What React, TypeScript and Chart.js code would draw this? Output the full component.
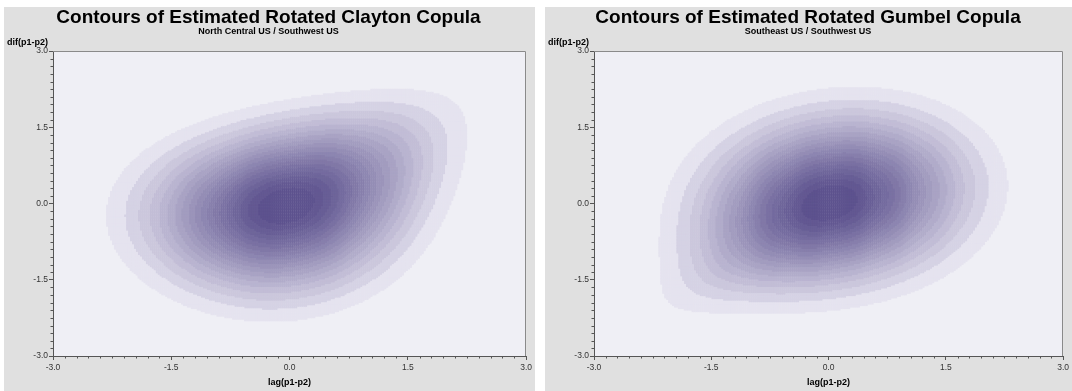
import React, { useEffect, useRef } from "react";
import { Chart, registerables } from "chart.js";

Chart.register(...registerables);

// ---- chart content ----
const panelTitles = [
  "Contours of Estimated Rotated Clayton Copula",
  "Contours of Estimated Rotated Gumbel Copula",
];
const panelSubtitles = ["North Central US / Southwest US", "Southeast US / Southwest US"];
const copulaFamilies = ["clayton", "gumbel"];
// estimated copula parameters (read from the contour shapes)
const copulaThetas = [0.38, 1.16];
// contour levels as fractions of the peak density
const contourLevelFractions = [
  0.07, 0.118, 0.166, 0.214, 0.262, 0.31, 0.358, 0.406, 0.454, 0.502, 0.55, 0.598, 0.646, 0.694, 0.742, 0.79, 0.838,
  0.886, 0.934,
];
const axisMin = -3;
const axisMax = 3;
const axisMajorStep = 1.5;
const axisMinorStep = 0.15;
const xAxisLabel = "lag(p1-p2)";
const yAxisLabel = "dif(p1-p2)";

// ---- styling ----
const FONT = '"Liberation Sans", Arial, Helvetica, sans-serif';
const PANEL_BG = "#e0e0e0";
const PLOT_BG = "#efeff5";
const LIGHT = [229, 227, 239];
const DARK = [93, 82, 142];
const RAMP_GAMMA = 0.75;
const GRID_NX = 240;
const GRID_NY = 200;

function erfc(x: number) {
  const z = Math.abs(x);
  const t = 1 / (1 + 0.5 * z);
  const r =
    t *
    Math.exp(
      -z * z -
        1.26551223 +
        t *
          (1.00002368 +
            t *
              (0.37409196 +
                t *
                  (0.09678418 +
                    t *
                      (-0.18628806 +
                        t *
                          (0.27886807 +
                            t * (-1.13520398 + t * (1.48851587 + t * (-0.82215223 + t * 0.17087277))))))))
    );
  return x >= 0 ? r : 2 - r;
}
const normCdf = (x: number) => 0.5 * erfc(-x / Math.SQRT2);
const normPdf = (x: number) => Math.exp(-0.5 * x * x) / Math.sqrt(2 * Math.PI);

function claytonDensity(u: number, v: number, t: number) {
  const s = Math.pow(u, -t) + Math.pow(v, -t) - 1;
  return (1 + t) * Math.pow(u * v, -1 - t) * Math.pow(s, -2 - 1 / t);
}
function gumbelDensity(u: number, v: number, t: number) {
  const a = -Math.log(u);
  const b = -Math.log(v);
  const S = Math.pow(a, t) + Math.pow(b, t);
  const A = Math.pow(S, 1 / t);
  const C = Math.exp(-A);
  return (C / (u * v)) * Math.pow(a * b, t - 1) * Math.pow(S, 1 / t - 2) * (A + t - 1);
}
// 180-degree rotated copula with standard normal margins
function jointDensity(family: string, theta: number, x: number, y: number) {
  const u = normCdf(-x);
  const v = normCdf(-y);
  const c = family === "clayton" ? claytonDensity(u, v, theta) : gumbelDensity(u, v, theta);
  return c * normPdf(x) * normPdf(y);
}

function bandColor(k: number, n: number) {
  const t = Math.pow(n <= 1 ? 1 : k / (n - 1), RAMP_GAMMA);
  const c = LIGHT.map((l, i) => Math.round(l + (DARK[i] - l) * t));
  return `rgb(${c[0]},${c[1]},${c[2]})`;
}

function buildBands(index: number) {
  const fam = copulaFamilies[index];
  const theta = copulaThetas[index];
  const dx = (axisMax - axisMin) / GRID_NX;
  const dy = (axisMax - axisMin) / GRID_NY;
  const cells: { x: number; y: number; d: number }[] = [];
  let peak = 0;
  for (let i = 0; i < GRID_NX; i++) {
    const x = axisMin + (i + 0.5) * dx;
    for (let j = 0; j < GRID_NY; j++) {
      const y = axisMin + (j + 0.5) * dy;
      const d = jointDensity(fam, theta, x, y);
      if (d > peak) peak = d;
      cells.push({ x, y, d });
    }
  }
  const levels = contourLevelFractions.map((f) => f * peak);
  const bands: { x: number; y: number }[][] = levels.map(() => []);
  for (const c of cells) {
    let k = -1;
    for (let l = 0; l < levels.length; l++) if (c.d >= levels[l]) k = l;
    if (k >= 0) bands[k].push({ x: c.x, y: c.y });
  }
  return bands;
}

const panelDecor = {
  id: "panelDecor",
  beforeDraw(chart: any) {
    const { ctx, chartArea: a } = chart;
    ctx.save();
    ctx.fillStyle = PANEL_BG;
    ctx.fillRect(0, 0, chart.width, chart.height);
    ctx.fillStyle = PLOT_BG;
    ctx.fillRect(a.left, a.top, a.right - a.left, a.bottom - a.top);
    ctx.restore();
  },
  afterDraw(chart: any) {
    const { ctx, chartArea: a } = chart;
    const xs = chart.scales.x;
    const ys = chart.scales.y;
    ctx.save();
    ctx.strokeStyle = "#8a8a8a";
    ctx.lineWidth = 1;
    ctx.beginPath();
    ctx.moveTo(Math.round(a.left), Math.round(a.top) + 0.5);
    ctx.lineTo(Math.round(a.right) - 0.5, Math.round(a.top) + 0.5);
    ctx.lineTo(Math.round(a.right) - 0.5, Math.round(a.bottom));
    ctx.stroke();
    ctx.strokeStyle = "#555";
    ctx.beginPath();
    const n = Math.round((axisMax - axisMin) / axisMinorStep);
    const per = Math.round(axisMajorStep / axisMinorStep);
    for (let i = 0; i <= n; i++) {
      if (i % per === 0) continue;
      const v = axisMin + i * axisMinorStep;
      const px = Math.round(xs.getPixelForValue(v)) + 0.5;
      ctx.moveTo(px, a.bottom);
      ctx.lineTo(px, a.bottom + 2.5);
      const py = Math.round(ys.getPixelForValue(v)) + 0.5;
      ctx.moveTo(a.left, py);
      ctx.lineTo(a.left - 2.5, py);
    }
    ctx.stroke();
    ctx.restore();
  },
};

function CopulaPanel({ index, left, width, rightPad }: { index: number; left: number; width: number; rightPad: number }) {
  const ref = useRef<HTMLCanvasElement | null>(null);
  useEffect(() => {
    const bands = buildBands(index);
    const datasets = bands.map((pts, k) => ({
      data: pts,
      pointStyle: "rect",
      pointRadius: 1.6,
      pointHoverRadius: 1.6,
      borderWidth: 0,
      backgroundColor: bandColor(k, bands.length),
      showLine: false,
    }));
    const tickFont = { family: FONT, size: 8.5 };
    const chart = new Chart(ref.current as HTMLCanvasElement, {
      type: "scatter",
      data: { datasets } as any,
      options: {
        animation: false,
        responsive: false,
        events: [],
        parsing: false,
        normalized: true,
        layout: { padding: { left: 4, right: rightPad, top: 0, bottom: 0 } },
        plugins: {
          legend: { display: false },
          tooltip: { enabled: false },
          title: {
            display: true,
            text: panelTitles[index],
            color: "#000",
            font: { family: FONT, size: 19, weight: "bold", lineHeight: 1.0 },
            padding: { top: 1, bottom: 0 },
          },
          subtitle: {
            display: true,
            text: panelSubtitles[index],
            color: "#000",
            font: { family: FONT, size: 9, weight: "bold", lineHeight: 1.0 },
            padding: { top: 0, bottom: 15 },
          },
        },
        scales: {
          x: {
            type: "linear",
            min: axisMin,
            max: axisMax,
            ticks: {
              stepSize: axisMajorStep,
              callback: (v: any) => Number(v).toFixed(1),
              font: tickFont,
              color: "#333",
              padding: 3,
              maxRotation: 0,
              autoSkip: false,
            },
            grid: { display: true, drawOnChartArea: false, drawTicks: true, tickLength: 4, color: "#555" },
            border: { display: true, color: "#555", width: 1 },
            title: {
              display: true,
              text: xAxisLabel,
              color: "#000",
              font: { family: FONT, size: 9, weight: "bold" },
              padding: { top: 0, bottom: 3 },
            },
            afterFit: (s: any) => {
              s.height = 35;
            },
          },
          y: {
            type: "linear",
            min: axisMin,
            max: axisMax,
            ticks: {
              stepSize: axisMajorStep,
              callback: (v: any) => Number(v).toFixed(1),
              font: tickFont,
              color: "#333",
              padding: 1,
              autoSkip: false,
            },
            grid: { display: true, drawOnChartArea: false, drawTicks: true, tickLength: 4, color: "#555" },
            border: { display: true, color: "#555", width: 1 },
            afterFit: (s: any) => {
              s.width = 45;
            },
          },
        },
      } as any,
      plugins: [panelDecor],
    });
    return () => chart.destroy();
  }, [index, rightPad]);
  return (
    <div style={{ position: "absolute", left, top: 7, width, height: 384, background: PANEL_BG, overflow: "hidden" }}>
      <canvas ref={ref} width={width} height={384} style={{ display: "block" }} />
      <div
        style={{
          position: "absolute",
          left: 0,
          top: 30,
          width: 44,
          textAlign: "right",
          font: `bold 9px ${FONT}`,
          lineHeight: "10px",
          color: "#000",
          whiteSpace: "nowrap",
        }}
      >
        {yAxisLabel}
      </div>
    </div>
  );
}

export default function App() {
  return (
    <div style={{ position: "fixed", left: 0, top: 0, width: 1072, height: 391, background: "#fff", overflow: "hidden" }}>
      <CopulaPanel index={0} left={4} width={531} rightPad={6} />
      <CopulaPanel index={1} left={545} width={527} rightPad={5} />
    </div>
  );
}
